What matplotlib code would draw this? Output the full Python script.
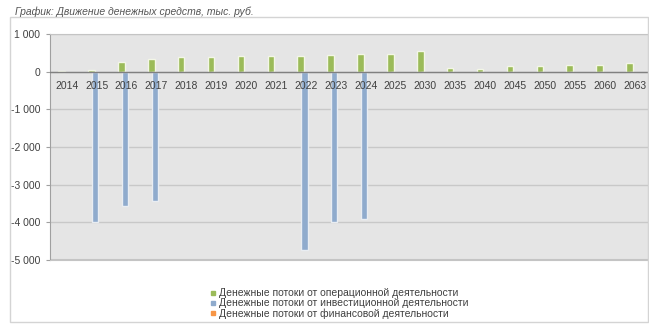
import numpy as np
import matplotlib
matplotlib.use("Agg")
import matplotlib.pyplot as plt
from matplotlib.lines import Line2D
from matplotlib.patches import Rectangle
from matplotlib.transforms import offset_copy

plt.rcParams['font.family'] = ['Liberation Sans', 'DejaVu Sans']

years = ['2014', '2015', '2016', '2017', '2018', '2019', '2020', '2021', '2022', '2023',
         '2024', '2025', '2030', '2035', '2040', '2045', '2050', '2055', '2060', '2063']
operating = [10, 50, 250, 340, 380, 380, 420, 420, 420, 440,
             470, 470, 540, 100, 80, 140, 150, 170, 170, 220]
investing = [0, -4000, -3560, -3430, 0, 0, 0, 0, -4730, -3980,
             -3910, 0, -20, 0, 0, 0, 0, 0, 0, 0]
financing = [0] * 20

y_ticks = [1000, 0, -1000, -2000, -3000, -4000, -5000]
y_labels = ['1 000', '0', '-1 000', '-2 000', '-3 000', '-4 000', '-5 000']

labels = ['Денежные потоки от операционной деятельности',
          'Денежные потоки от инвестиционной деятельности',
          'Денежные потоки от финансовой деятельности']
colors = ['#9bbb59', '#8fabcd', '#f79646']

W, H = 649, 325
fig = plt.figure(figsize=(6.49, 3.25), dpi=100)

# outer chart box
fig.patches.append(Rectangle((10 / W, 1 - 322 / H), 638 / W, 305 / H,
                             transform=fig.transFigure, fill=False,
                             edgecolor='#d4d4d4', linewidth=1))
fig.text(15 / W, 1 - 12 / H, 'График: Движение денежных средств, тыс. руб.',
         fontsize=7.5, style='italic', color='#555555', va='center', ha='left')

ax = fig.add_axes([50 / W, 0.2, 598 / W, 1 - 34 / H - 0.2])
ax.set_facecolor('#e5e5e5')

x = np.arange(len(years))
w = 0.22
ax.bar(x - 0.17, operating, w, color=colors[0], edgecolor='#f3f6e6', linewidth=1.0, zorder=3)
ax.bar(x - 0.05, investing, w, color=colors[1], edgecolor='#e9edf2', linewidth=1.0, zorder=3)
ax.bar(x + 0.07, financing, w, color=colors[2], edgecolor='none', zorder=3)

ax.set_xlim(-0.56, 19.45)
ax.set_ylim(-5000, 1000)
ax.set_yticks(y_ticks)
ax.set_yticklabels(y_labels)
ax.yaxis.grid(True, color='#c8c8c8', linewidth=1, zorder=0)
ax.set_axisbelow(True)
ax.axhline(-5000, color='#c4c4c4', linewidth=1.5, zorder=1)
ax.axhline(0, color='#808080', linewidth=1, zorder=4)

for s in ['top', 'right', 'bottom']:
    ax.spines[s].set_color('#c4c4c4')
ax.spines['left'].set_color('#a0a0a0')

# year labels sit just under the zero line, on top of the bars
ax.set_xticks([])
trans = offset_copy(ax.transData, fig=fig, x=0, y=-7, units='points')
for xi, yr in zip(x, years):
    ax.text(xi, 0, yr, transform=trans, ha='center', va='top',
            fontsize=7.5, color='#404040', zorder=5)
ax.tick_params(axis='y', length=3, width=0.8, color='#a0a0a0', pad=4,
               labelsize=7.5, labelcolor='#404040')

handles = [Line2D([], [], marker='s', linestyle='none', markersize=2.5,
                  markerfacecolor=c, markeredgecolor=c) for c in colors]
fig.legend(handles, labels, loc='upper left', bbox_to_anchor=(205 / W, 1 - 283 / H),
           frameon=False, fontsize=7.5, labelspacing=0.0, handlelength=0.6,
           handletextpad=0.2, borderpad=0, labelcolor='#404040')

fig.savefig('out.png', dpi=100)
